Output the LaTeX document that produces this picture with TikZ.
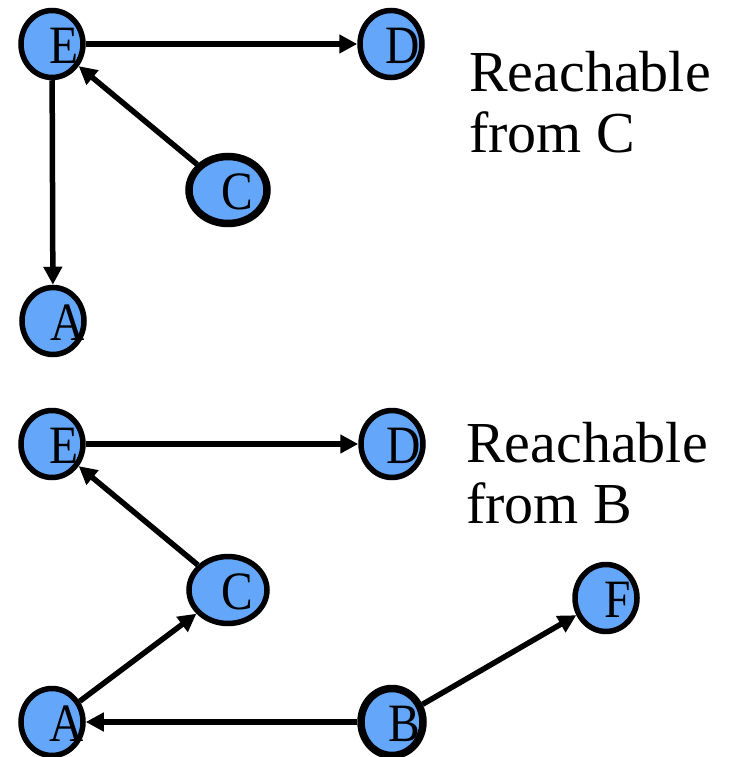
\documentclass[tikz,border=0pt]{standalone}
\usepackage{fontspec}
\setmainfont{Liberation Serif}
\usetikzlibrary{shapes.geometric,arrows.meta}
\definecolor{vfill}{RGB}{99,166,250}
\tikzset{
  vert/.style={ellipse, draw=black, line width=5.5pt, fill=vfill, inner sep=0pt,
    minimum width=62pt, minimum height=67pt},
  wide/.style={minimum width=78pt},
  src/.style={line width=7.5pt},
  vlabel/.style={font=\fontsize{54}{54}\selectfont, inner sep=0pt, xshift=12pt, yshift=-1.5pt},
  edge/.style={line width=5.5pt, -{Triangle[length=18pt,width=18pt]}},
  caption/.style={font=\fontsize{58}{61}\selectfont, align=left, inner sep=0pt, anchor=base west}
}
\newcommand{\vtxt}[1]{\scalebox{0.88}[1]{#1}}
\begin{document}
\begin{tikzpicture}[x=1pt,y=-1pt]
\useasboundingbox (0,0) rectangle (730,757);

% upper graph: vertices reachable from C
\node[vert, label={[vlabel]center:\vtxt{E}}] (e1) at (52,44) {};
\node[vert, label={[vlabel]center:\vtxt{D}}] (d1) at (391,44) {};
\node[vert, wide, src, label={[vlabel, xshift=-3pt]center:\vtxt{C}}] (c1) at (228,190) {};
\node[vert, label={[vlabel, xshift=3pt]center:\vtxt{A}}] (a1) at (53,321) {};

\draw[edge] (e1) -- (d1);
\draw[edge] (c1) -- (e1);
\draw[edge] (e1) -- (a1);

% the base anchor of a multi-line node sits on its last line
\node[caption] (t1) at (469,152) {Reachable\\from C};

% lower graph: vertices reachable from B
\node[vert, label={[vlabel]center:\vtxt{E}}] (e2) at (52,444) {};
\node[vert, label={[vlabel]center:\vtxt{D}}] (d2) at (392,444) {};
\node[vert, wide, label={[vlabel, xshift=-3pt]center:\vtxt{C}}] (c2) at (228,590) {};
\node[vert, label={[vlabel]center:\vtxt{F}}] (f2) at (606,598) {};
\node[vert, label={[vlabel, xshift=3pt]center:\vtxt{A}}] (a2) at (52,722) {};
\node[vert, src, label={[vlabel]center:\vtxt{B}}] (b2) at (392,722) {};

\draw[edge] (e2) -- (d2);
\draw[edge] (c2) -- (e2);
\draw[edge] (a2) -- (c2);
\draw[edge] (b2) -- (a2);
\draw[edge] (b2) -- (f2);

\node[caption] (t2) at (466,523) {Reachable\\from B};
\end{tikzpicture}
\end{document}
